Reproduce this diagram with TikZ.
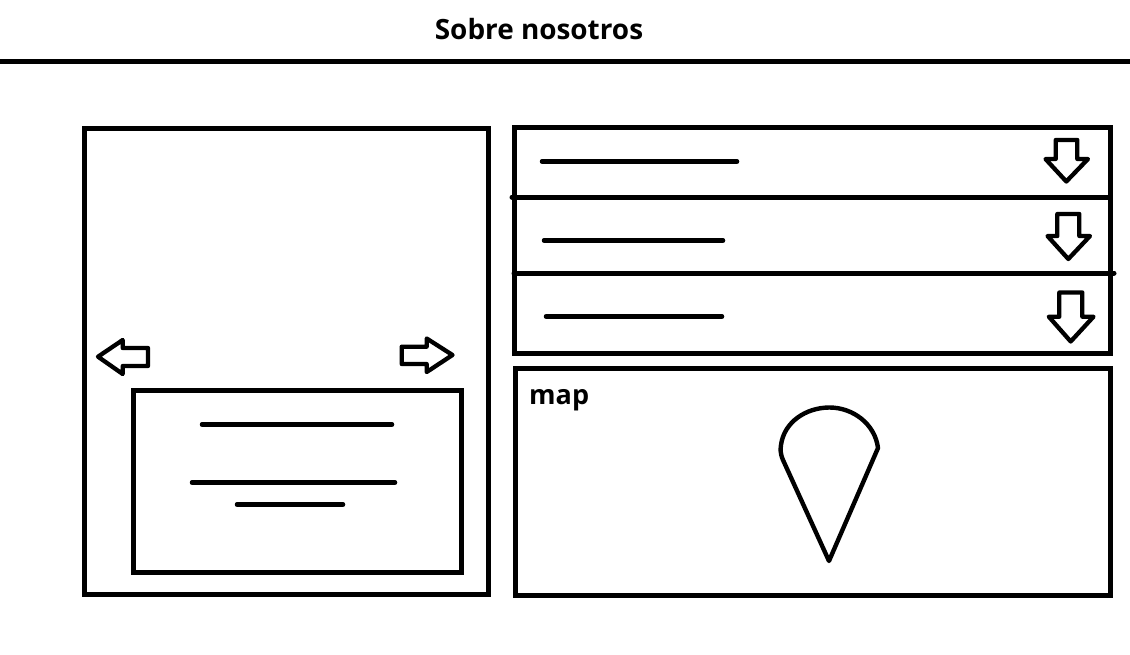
\documentclass[tikz,border=0pt]{standalone}
\usepackage{fontspec}
\setmainfont{Open Sans}
\begin{document}
\begin{tikzpicture}[x=1pt,y=-1pt,
  box/.style={draw=black,line width=5pt,line join=miter},
  rule/.style={draw=black,line width=4.5pt,line cap=round},
  icon/.style={draw=black,line width=4.3pt,line join=round},
  pin/.style={draw=black,line width=4.4pt,line join=round},
  label/.style={inner sep=0pt,font=\bfseries,text=black}]
\useasboundingbox (0,0) rectangle (1130,654);
\fill[white] (0,0) rectangle (1130,654);
\node[label,font=\bfseries\fontsize{27.9}{32}\selectfont] (title) at (539,29) {Sobre nosotros};
\coordinate (hl) at (0,61); \coordinate (hr) at (1130,61);
\draw[draw=black,line width=5pt] (hl) -- (hr);
% left panel
\draw[box] (84,128) rectangle (488.5,594);
\draw[box] (133,390) rectangle (461,572);
\draw[rule] (202,424.5) -- (392,424.5);
\draw[rule] (192,482.5) -- (395,482.5);
\draw[rule] (237,504.5) -- (343,504.5);
\draw[icon] (98,356.7) -- (122.7,340) -- (122.7,348) -- (148,348) -- (148,366) -- (122.7,366) -- (122.7,374) -- cycle;
\draw[icon] (401.7,346.7) -- (426.7,346.7) -- (426.7,338.5) -- (452.5,355) -- (426.7,372) -- (426.7,364) -- (401.7,364) -- cycle;
% accordion
\draw[box] (514,127) rectangle (1110,353);
\draw[draw=black,line width=5pt,line cap=round] (512,197) -- (1110,197);
\draw[draw=black,line width=5pt,line cap=round] (514,273) -- (1114,273);
\draw[rule] (542,161.5) -- (737,161.5);
\draw[rule] (544,240.5) -- (723,240.5);
\draw[rule] (546,316.5) -- (722,316.5);
\draw[icon] (1055.7,140) -- (1077.3,140) -- (1077.3,159) -- (1088,159) -- (1066.3,181.5) -- (1045.5,159) -- (1055.7,159) -- cycle;
\draw[icon] (1057.3,214) -- (1079.3,214) -- (1079.3,236) -- (1090,236) -- (1068.3,259) -- (1047.5,236) -- (1057.3,236) -- cycle;
\draw[icon] (1059.3,292.5) -- (1082.3,292.5) -- (1082.3,316.7) -- (1093.5,316.7) -- (1070.7,341.5) -- (1048.8,316.7) -- (1059.3,316.7) -- cycle;
% map
\draw[box] (515,368) rectangle (1110.5,595);
\node[label,font=\bfseries\fontsize{27}{31}\selectfont,anchor=base west] (map) at (529,404) {map};
\draw[pin] (829,561) -- (783,460) .. controls (780,453) and (780.5,449) .. (781,445)
  .. controls (784,422) and (806,407.5) .. (829.5,407.5)
  .. controls (853,407.5) and (875,424) .. (878,448) -- cycle;
\end{tikzpicture}
\end{document}
